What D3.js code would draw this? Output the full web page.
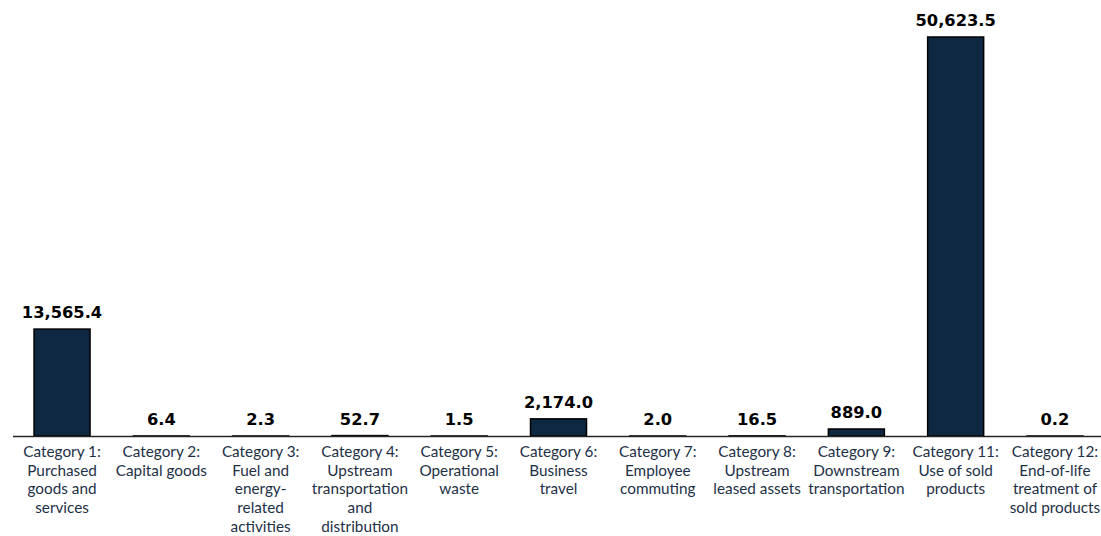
<!DOCTYPE html>
<html>
<head>
<meta charset="utf-8">
<script src="https://cdn.jsdelivr.net/npm/d3@7"></script>
<style>
  html, body { margin: 0; padding: 0; background: #ffffff; }
  svg { display: block; }
</style>
</head>
<body>
<svg id="chart" width="1101" height="536"></svg>
<script>
const categories = [
  "Category 1:|Purchased|goods and|services",
  "Category 2:|Capital goods",
  "Category 3:|Fuel and|energy-|related|activities",
  "Category 4:|Upstream|transportation|and|distribution",
  "Category 5:|Operational|waste",
  "Category 6:|Business|travel",
  "Category 7:|Employee|commuting",
  "Category 8:|Upstream|leased assets",
  "Category 9:|Downstream|transportation",
  "Category 11:|Use of sold|products",
  "Category 12:|End-of-life|treatment of|sold products"
];
const values = [13565.4, 6.4, 2.3, 52.7, 1.5, 2174.0, 2.0, 16.5, 889.0, 50623.5, 0.2];

const svg = d3.select("#chart");
const baseY = 436;

const x = d3.scaleBand()
  .domain(categories)
  .range([12.4, 1104.6])
  .paddingInner(0.436)
  .paddingOuter(0.218);

const y = d3.scaleLinear()
  .domain([0, 50623.5])
  .range([baseY, 37]);

const fmt = d3.format(",.1f");

// bars
svg.append("g").selectAll("rect")
  .data(values)
  .join("rect")
  .attr("x", (d, i) => x(categories[i]))
  .attr("width", x.bandwidth())
  .attr("y", d => y(d))
  .attr("height", d => baseY - y(d))
  .attr("fill", "#0f2841")
  .attr("stroke", "#000000")
  .attr("stroke-width", 1.5);

// axis line
const axis = d3.axisBottom(x).tickSize(0).tickFormat("");
const ag = svg.append("g").attr("transform", `translate(0,${baseY})`).call(axis);
ag.select(".domain").attr("stroke", "#262626").attr("stroke-width", 1.5)
  .attr("d", "M13,0.5H1101");

// value labels
svg.append("g").selectAll("text")
  .data(values)
  .join("text")
  .attr("x", (d, i) => x(categories[i]) + x.bandwidth() / 2)
  .attr("y", d => y(d) - 11)
  .attr("text-anchor", "middle")
  .attr("font-family", "'DejaVu Sans', Verdana, sans-serif")
  .attr("font-weight", "bold")
  .attr("font-size", 16.3)
  .attr("fill", "#000000")
  .text(d => fmt(d));

// category labels
const lg = svg.append("g");
categories.forEach((c, i) => {
  const t = lg.append("text")
    .attr("x", x(c) + x.bandwidth() / 2)
    .attr("y", 457)
    .attr("text-anchor", "middle")
    .attr("font-family", "Lato, 'Open Sans', sans-serif")
    .attr("font-size", 15.3)
    .attr("fill", "#1e3047");
  c.split("|").forEach((line, j) => {
    t.append("tspan")
      .attr("x", x(c) + x.bandwidth() / 2)
      .attr("dy", j === 0 ? 0 : 18.7)
      .text(line);
  });
});
</script>
</body>
</html>
